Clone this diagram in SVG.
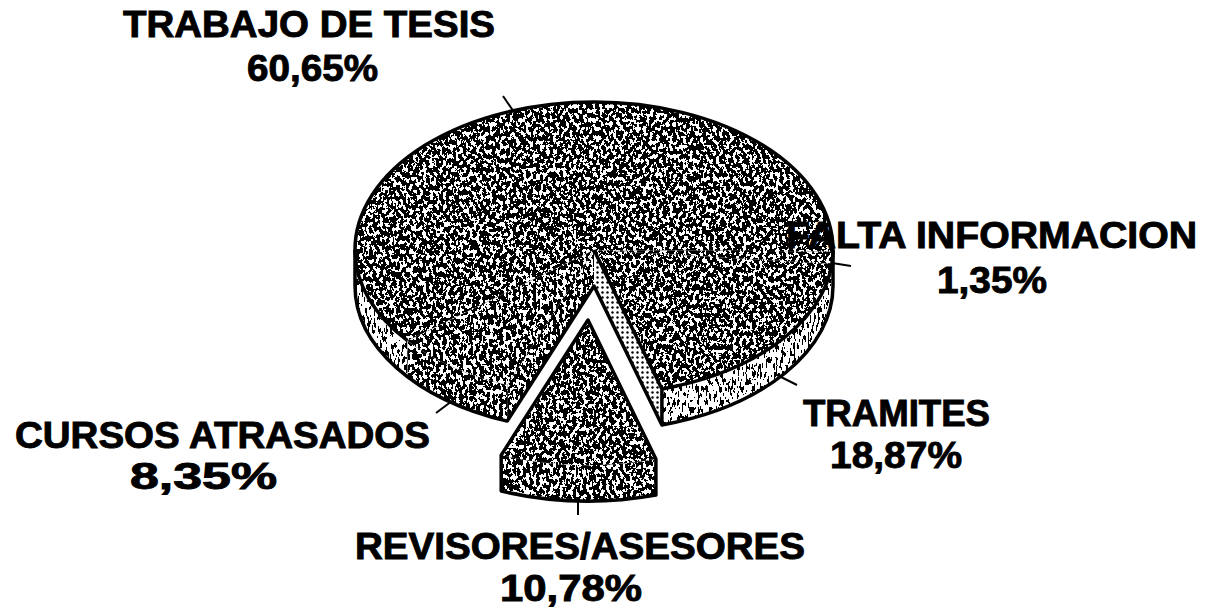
<svg xmlns="http://www.w3.org/2000/svg" width="1206" height="609" viewBox="0 0 1206 609">
<defs>
  <filter id="speckDark" color-interpolation-filters="sRGB">
    <feTurbulence type="fractalNoise" baseFrequency="0.3 0.22" numOctaves="3" seed="7" result="n"/>
    <feColorMatrix in="n" type="matrix" values="0 0 0 0 1  0 0 0 0 1  0 0 0 0 1  8 0 0 0 -3.8" result="w"/>
    <feComponentTransfer in="w" result="wt"><feFuncA type="discrete" tableValues="0 1"/></feComponentTransfer>
    <feComposite in="wt" in2="SourceAlpha" operator="in" result="ws"/>
    <feMerge><feMergeNode in="SourceGraphic"/><feMergeNode in="ws"/></feMerge>
  </filter>
  <filter id="speckMid" color-interpolation-filters="sRGB">
    <feTurbulence type="fractalNoise" baseFrequency="0.3 0.2" numOctaves="3" seed="3" result="n"/>
    <feColorMatrix in="n" type="matrix" values="0 0 0 0 1  0 0 0 0 1  0 0 0 0 1  8 0 0 0 -3.7" result="w"/>
    <feComponentTransfer in="w" result="wt"><feFuncA type="discrete" tableValues="0 1"/></feComponentTransfer>
    <feComposite in="wt" in2="SourceAlpha" operator="in" result="ws"/>
    <feMerge><feMergeNode in="SourceGraphic"/><feMergeNode in="ws"/></feMerge>
  </filter>
  <filter id="speckLight" color-interpolation-filters="sRGB">
    <feTurbulence type="fractalNoise" baseFrequency="0.5 0.14" numOctaves="2" seed="11" result="n"/>
    <feColorMatrix in="n" type="matrix" values="0 0 0 0 0  0 0 0 0 0  0 0 0 0 0  8 0 0 0 -4.0" result="k"/>
    <feComponentTransfer in="k" result="kt"><feFuncA type="discrete" tableValues="0 1"/></feComponentTransfer>
    <feComposite in="kt" in2="SourceAlpha" operator="in" result="ks"/>
    <feMerge><feMergeNode in="SourceGraphic"/><feMergeNode in="ks"/></feMerge>
  </filter>
  <pattern id="dotPat" width="5" height="5" patternUnits="userSpaceOnUse">
    <rect width="5" height="5" fill="#fff"/>
    <circle cx="2.5" cy="2.5" r="1.2" fill="#000"/>
  </pattern>
  <style>
    .dark { fill:#000; filter:url(#speckDark); }
    .mid { fill:#000; filter:url(#speckMid); }
    .light { fill:#fff; filter:url(#speckLight); }
    .dots { fill:url(#dotPat); }
    .edge { fill:none; stroke:#000; stroke-width:3.5; stroke-linejoin:round; }
    .lead { fill:none; stroke:#000; stroke-width:2; }
    .lbl { font-family:"Liberation Sans", Arial, Helvetica, sans-serif; font-weight:bold; font-size:36px; fill:#000; stroke:#000; stroke-width:0.9; }
  </style>
</defs>
<rect width="1206" height="609" fill="#fff"/>

<g id="slice-trabajo">
  <path class="light" d="M355 250 A239 145 0 0 0 407.5 340.7 L407.5 376.7 A239 145 0 0 1 355 286 Z"/>
  <path class="dark" d="M594 250 L833 251.5 L833 250 A239 148 0 0 0 355 250 A239 145 0 0 0 407.5 340.7 Z"/>
</g>
<g id="slice-falta">
  <path class="dark" d="M831.9 263.9 L833 250 L833 286 L831.9 299.9 Z"/>
  <path class="dark" d="M594 250 L831.9 263.9 A239 145 0 0 0 833 251.5 Z"/>
</g>
<g id="slice-tramites">
  <path class="dots" d="M594 250 L661.9 389 L661.9 425 L594 286 Z"/>
  <path class="light" d="M661.9 389 A239 145 0 0 0 831.9 263.9 L831.9 299.9 A239 145 0 0 1 661.9 425 Z"/>
  <path class="dark" d="M594 250 L661.9 389 A239 145 0 0 0 831.9 263.9 Z"/>
</g>
<g id="slice-cursos">
  <path class="mid" d="M594 250 L507.2 385.1 L507.2 421.1 L594 286 Z"/>
  <path class="mid" d="M407.5 340.7 A239 145 0 0 0 507.2 385.1 L507.2 421.1 A239 145 0 0 1 407.5 376.7 Z"/>
  <path class="mid" d="M594 250 L407.5 340.7 A239 145 0 0 0 507.2 385.1 Z"/>
</g>
<g id="pie-outline">
  <path class="edge" d="M833 250 A239 148 0 0 0 355 250 L355 286 A239 145 0 0 0 507.2 421.1 L594 286 L661.9 425 A239 145 0 0 0 833 286 Z"/>
  <path class="edge" d="M661.9 389 A239 145 0 0 0 833 250"/>
  <path class="edge" d="M355 250 A239 145 0 0 0 407.5 340.7"/>
  <path class="edge" d="M594 250 L661.9 389 L661.9 425"/>
</g>
<g id="slice-revisores">
  <path class="mid" d="M501.2 455.1 L501.2 491.1 A239 145 0 0 0 655.9 495 L655.9 459 A239 145 0 0 1 501.2 455.1 Z"/>
  <path class="dark" d="M588 320 L501.2 455.1 A239 145 0 0 0 655.9 459 Z"/>
  <path class="edge" d="M588 320 L501.2 455.1 L501.2 491.1 A239 145 0 0 0 655.9 495 L655.9 459 Z"/>
</g>

<g id="connectors">
  <line class="lead" x1="503" y1="96" x2="514" y2="112"/>
  <line class="lead" x1="832" y1="263" x2="851" y2="266"/>
  <line class="lead" x1="775" y1="374" x2="797" y2="385"/>
  <line class="lead" x1="578" y1="497" x2="578" y2="515"/>
  <line class="lead" x1="436" y1="413" x2="452" y2="401"/>
</g>

<g id="labels">
  <text class="lbl" x="123" y="37" textLength="372" lengthAdjust="spacingAndGlyphs">TRABAJO DE TESIS</text>
  <text class="lbl" x="247" y="81" textLength="131" lengthAdjust="spacingAndGlyphs">60,65%</text>
  <text class="lbl" x="786" y="248" textLength="411" lengthAdjust="spacingAndGlyphs">FALTA INFORMACION</text>
  <text class="lbl" x="937" y="293" textLength="110" lengthAdjust="spacingAndGlyphs">1,35%</text>
  <text class="lbl" x="803" y="426" textLength="187" lengthAdjust="spacingAndGlyphs">TRAMITES</text>
  <text class="lbl" x="830" y="468" textLength="132" lengthAdjust="spacingAndGlyphs">18,87%</text>
  <text class="lbl" x="355" y="559" textLength="450" lengthAdjust="spacingAndGlyphs">REVISORES/ASESORES</text>
  <text class="lbl" x="500" y="601" textLength="142" lengthAdjust="spacingAndGlyphs">10,78%</text>
  <text class="lbl" x="15" y="448" textLength="415" lengthAdjust="spacingAndGlyphs">CURSOS ATRASADOS</text>
  <text class="lbl" x="130" y="489" textLength="147" lengthAdjust="spacingAndGlyphs">8,35%</text>
</g>
</svg>
